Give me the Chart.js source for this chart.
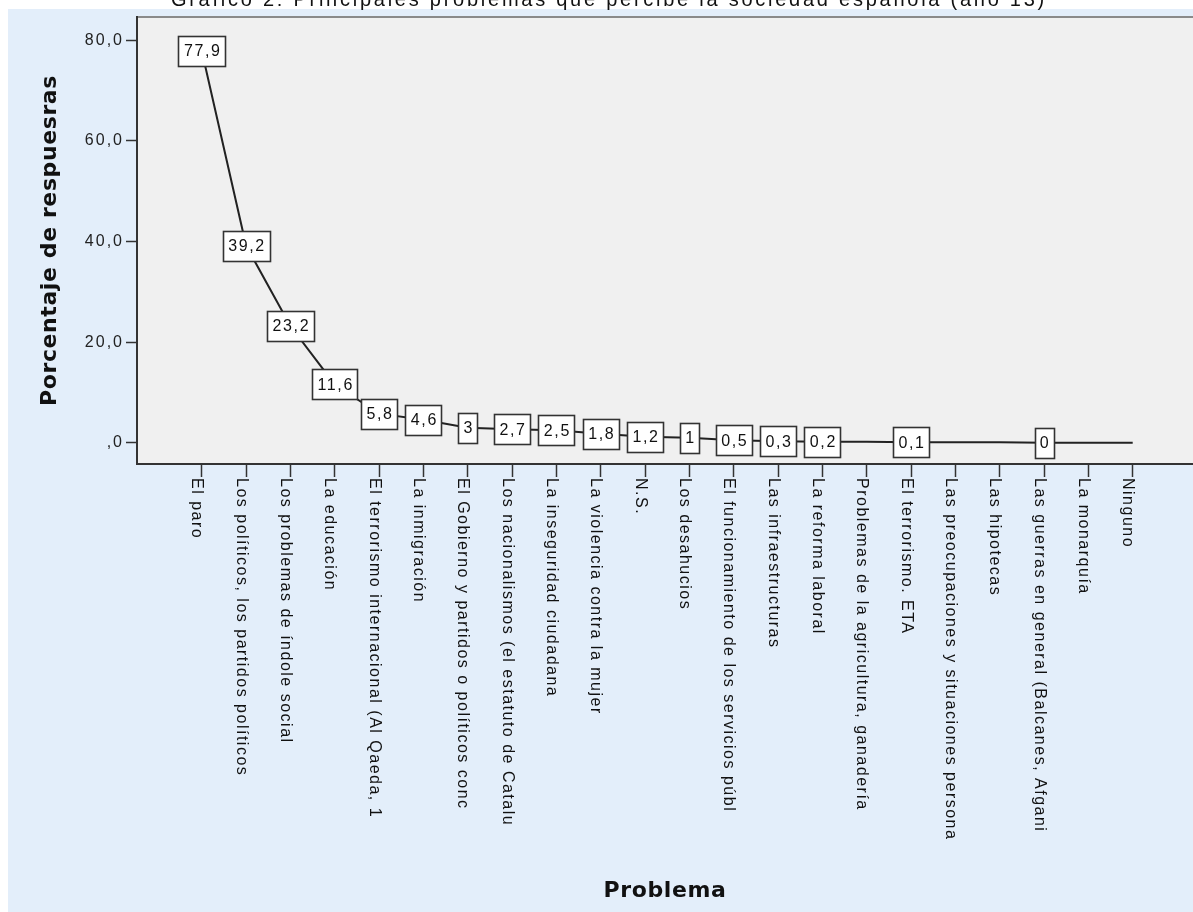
<!DOCTYPE html>
<html><head><meta charset="utf-8">
<script src="https://cdn.jsdelivr.net/npm/chart.js@4/dist/chart.umd.min.js"></script>
<style>
html,body{margin:0;padding:0;background:#fff;overflow:hidden;width:1193px;height:912px;}
#wrap{position:absolute;left:0;top:-13px;width:1193px;height:925px;}
</style></head><body>
<div id="wrap"><canvas id="c" width="1193" height="925"></canvas></div>
<script>
const chartTitle = 'Gráfico 2: Principales problemas que percibe la sociedad española (año 13)';
const xAxisTitle = 'Problema';
const yAxisTitle = 'Porcentaje de respuesras';
const categories = [
  'El paro',
  'Los políticos, los partidos políticos',
  'Los problemas de índole social',
  'La educación',
  'El terrorismo internacional (Al Qaeda, 1',
  'La inmigración',
  'El Gobierno y partidos o políticos conc',
  'Los nacionalismos (el estatuto de Catalu',
  'La inseguridad ciudadana',
  'La violencia contra la mujer',
  'N.S.',
  'Los desahucios',
  'El funcionamiento de los servicios públ',
  'Las infraestructuras',
  'La reforma laboral',
  'Problemas de la agricultura, ganadería',
  'El terrorismo. ETA',
  'Las preocupaciones y situaciones persona',
  'Las hipotecas',
  'Las guerras en general (Balcanes, Afgani',
  'La monarquía',
  'Ninguno'
];
const percentages = [77.9, 39.2, 23.2, 11.6, 5.8, 4.6, 3, 2.7, 2.5, 1.8, 1.2, 1, 0.5, 0.3, 0.2, 0.2, 0.1, 0.1, 0.1, 0, 0, 0];
const pointLabels = ['77,9','39,2','23,2','11,6','5,8','4,6','3','2,7','2,5','1,8','1,2','1','0,5','0,3','0,2','','0,1','','','0','',''];
const yTickValues = [0, 20, 40, 60, 80];

const FONT = '"Liberation Sans", Arial, sans-serif';
const BOLD = '"DejaVu Sans", Verdana, sans-serif';
const BASE_SPACING = '1.5px';

function setSpacing(chart){ chart.ctx.letterSpacing = BASE_SPACING; }

function withSpacing(obj, name, spacing) {
  if (obj['_patched_' + name]) return;
  const orig = obj[name];
  obj[name] = function(...args) {
    const ctx = this.ctx || (this.chart && this.chart.ctx);
    const prev = ctx.letterSpacing;
    ctx.letterSpacing = spacing;
    const r = orig.apply(this, args);
    ctx.letterSpacing = prev;
    return r;
  };
  obj['_patched_' + name] = true;
}

const bgPlugin = {
  id: 'bg',
  beforeUpdate(chart){ setSpacing(chart); },
  beforeLayout(chart){ setSpacing(chart); },
  afterLayout(chart) {
    if (chart.titleBlock) withSpacing(chart.titleBlock, 'draw', '2.75px');
    withSpacing(chart.scales.x, 'drawTitle', '0.6px');
    withSpacing(chart.scales.y, 'drawTitle', '0.6px');
    withSpacing(chart.scales.y, 'drawLabels', '2px');
  },
  beforeDraw(chart) {
    setSpacing(chart);
    const {ctx, chartArea: a, width, height} = chart;
    ctx.save();
    ctx.fillStyle = '#ffffff'; ctx.fillRect(0, 0, width, height);
    ctx.fillStyle = '#e3eefa'; ctx.fillRect(8, 22, width - 8, height - 22);
    ctx.fillStyle = '#f0f0f0'; ctx.fillRect(a.left, a.top, a.right - a.left, a.bottom - a.top);
    ctx.strokeStyle = '#8a8a8a'; ctx.lineWidth = 2;
    ctx.beginPath(); ctx.moveTo(a.left, a.top); ctx.lineTo(a.right, a.top); ctx.stroke();
    ctx.restore();
    // category labels rotated clockwise so they read top-to-bottom, starting at the tick
    const sx = chart.scales.x;
    const items = sx.getLabelItems();
    items.forEach((it, i) => {
      const px = sx.getPixelForValue(sx.ticks[i].value);
      it.options.translation = [px + 1, sx.top + 14];
      it.options.rotation = Math.PI / 2;
      it.options.textAlign = 'left';
      it.options.textBaseline = 'alphabetic';
      it.textOffset = 10.5;
    });
  }
};

const labelPlugin = {
  id: 'valueBoxes',
  afterDatasetsDraw(chart) {
    const meta = chart.getDatasetMeta(0);
    const ctx = chart.ctx;
    ctx.save();
    ctx.font = '16px ' + FONT;
    ctx.letterSpacing = '1.6px';
    meta.data.forEach((pt, i) => {
      const txt = pointLabels[i];
      if (!txt) return;
      const w = Math.round(ctx.measureText(txt).width + 9);
      const h = 30;
      const x = Math.round(pt.x - w / 2) + 0.5, y = Math.round(pt.y - h / 2) + 0.5;
      ctx.fillStyle = '#ffffff'; ctx.fillRect(x, y, w, h);
      ctx.strokeStyle = '#333333'; ctx.lineWidth = 1.6; ctx.strokeRect(x, y, w, h);
      ctx.fillStyle = '#111111'; ctx.textAlign = 'center'; ctx.textBaseline = 'middle';
      ctx.fillText(txt, pt.x + 1, pt.y + 1);
    });
    ctx.restore();
  }
};

new Chart(document.getElementById('c'), {
  type: 'line',
  data: {
    datasets: [{
      data: percentages.map((v, i) => ({x: i, y: v})),
      borderColor: '#222222',
      borderWidth: 2,
      pointRadius: 0,
      tension: 0,
      fill: false
    }]
  },
  options: {
    responsive: false,
    devicePixelRatio: 1,
    animation: false,
    layout: {padding: 0},
    plugins: {
      legend: {display: false},
      tooltip: {enabled: false},
      title: {
        display: true, text: '   ' + chartTitle, color: '#111',
        font: {family: FONT, size: 20, weight: 'normal'},
        padding: {top: 1, bottom: 5}
      }
    },
    scales: {
      x: {
        type: 'linear',
        min: -1.46, max: 22.36,
        afterBuildTicks: s => { s.ticks = categories.map((_, i) => ({value: i})); },
        afterFit: s => { s.height = 448; },
        ticks: {
          autoSkip: false, minRotation: 90, maxRotation: 90,
          callback: v => categories[v],
          font: {family: FONT, size: 16}, color: '#111', padding: 2
        },
        grid: {display: true, drawOnChartArea: false, drawTicks: true, tickLength: 13, tickColor: '#333', tickWidth: 1.5},
        border: {display: true, color: '#333', width: 2},
        title: {display: true, text: xAxisTitle, color: '#111',
          font: {family: BOLD, size: 22, weight: 'bold'}, padding: {top: 0, bottom: 8}}
      },
      y: {
        type: 'linear',
        min: -4.2, max: 84.6,
        afterBuildTicks: s => { s.ticks = yTickValues.map(v => ({value: v})); },
        afterFit: s => { s.width = 137; },
        ticks: {
          callback: v => v === 0 ? ',0' : v.toFixed(1).replace('.', ','),
          font: {family: FONT, size: 16}, color: '#222', padding: 2
        },
        grid: {display: true, drawOnChartArea: false, drawTicks: true, tickLength: 11, tickColor: '#333', tickWidth: 1.5},
        border: {display: true, color: '#333', width: 2},
        title: {display: true, text: yAxisTitle, color: '#111',
          font: {family: BOLD, size: 22, weight: 'bold'}, padding: {top: 37, bottom: 0}}
      }
    }
  },
  plugins: [bgPlugin, labelPlugin]
});
</script>
</body></html>
